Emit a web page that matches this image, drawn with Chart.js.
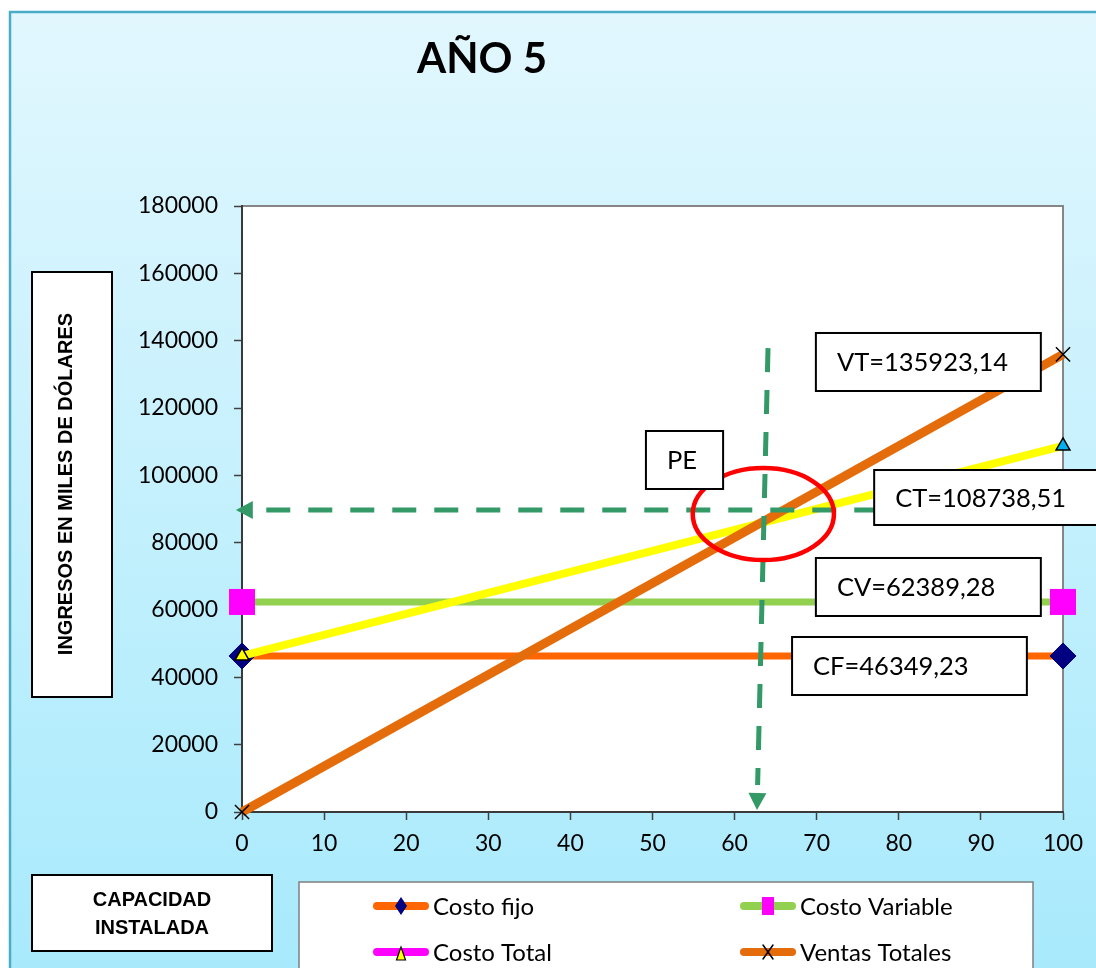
<!DOCTYPE html>
<html lang="es">
<head>
<meta charset="utf-8">
<title>AÑO 5 - Punto de equilibrio</title>
<script src="https://cdn.jsdelivr.net/npm/chart.js@4.4.1/dist/chart.umd.min.js"></script>
<style>
  html, body { margin: 0; padding: 0; background: #ffffff; }
  canvas { display: block; }
</style>
</head>
<body>
<canvas id="grafico" width="1096" height="968"></canvas>
<script>
// capacidad instalada (%) y valores en miles de dólares
const capacidad = [0, 100];
const costoFijo = [46349.23, 46349.23];
const costoVariable = [62389.28, 62389.28];
const costoTotal = [46349.23, 108738.51];
const ventasTotales = [0, 135923.14];

const ticksX = [0, 10, 20, 30, 40, 50, 60, 70, 80, 90, 100];
const ticksY = [0, 20000, 40000, 60000, 80000, 100000, 120000, 140000, 160000, 180000];

// cuadros de texto y marcas del punto de equilibrio, en unidades del gráfico
const etiquetas = [
  { texto: 'VT=135923,14', x0: 69.9, x1: 97.3, y0: 125050, y1: 142280 },
  { texto: 'CT=108738,51', x0: 77.0, x1: 104.5, y0: 85250, y1: 101580 },
  { texto: 'CV=62389,28', x0: 69.9, x1: 97.3, y0: 58220, y1: 75450 },
  { texto: 'CF=46349,23', x0: 67.0, x1: 95.6, y0: 34750, y1: 51980 },
  { texto: 'PE', x0: 49.2, x1: 58.6, y0: 95940, y1: 113170 }
];
const elipsePE = { x: 63.5, y: 88500, rx: 8.6, ry: 13660 };
const flechas = [
  { desde: [77.5, 89700], hasta: [-0.75, 89700] },
  { desde: [64.07, 137800], hasta: [62.73, 600] }
];

const puntos = ys => capacidad.map((x, i) => ({ x: x, y: ys[i] }));

function flecha(ctx, x1, y1, x2, y2) {
  const d = Math.hypot(x2 - x1, y2 - y1);
  const ux = (x2 - x1) / d, uy = (y2 - y1) / d;
  const largo = 17, ancho = 9;
  const bx = x2 - ux * largo, by = y2 - uy * largo;
  ctx.save();
  ctx.strokeStyle = '#339966';
  ctx.fillStyle = '#339966';
  ctx.lineWidth = 5;
  ctx.setLineDash([24, 18]);
  ctx.beginPath();
  ctx.moveTo(x1, y1);
  ctx.lineTo(bx - ux * 8, by - uy * 8);
  ctx.stroke();
  ctx.setLineDash([]);
  ctx.beginPath();
  ctx.moveTo(x2, y2);
  ctx.lineTo(bx - uy * ancho, by + ux * ancho);
  ctx.lineTo(bx + uy * ancho, by - ux * ancho);
  ctx.closePath();
  ctx.fill();
  ctx.restore();
}

function marca(ctx, tipo, x, y) {
  ctx.save();
  ctx.lineWidth = 1.2;
  ctx.strokeStyle = '#000000';
  ctx.beginPath();
  if (tipo === 'diamante') {
    ctx.fillStyle = '#000080';
    ctx.moveTo(x, y - 9); ctx.lineTo(x + 6, y); ctx.lineTo(x, y + 9); ctx.lineTo(x - 6, y);
    ctx.closePath(); ctx.fill();
  } else if (tipo === 'cuadro') {
    ctx.fillStyle = '#FF00FF';
    ctx.fillRect(x - 6, y - 9, 12, 18);
  } else if (tipo === 'triangulo') {
    ctx.fillStyle = '#FFFF00';
    ctx.moveTo(x, y - 5); ctx.lineTo(x + 4.5, y + 8); ctx.lineTo(x - 4.5, y + 8);
    ctx.closePath(); ctx.fill(); ctx.stroke();
  } else {
    ctx.lineWidth = 1.5;
    ctx.moveTo(x - 5, y - 7); ctx.lineTo(x + 5, y + 7);
    ctx.moveTo(x + 5, y - 7); ctx.lineTo(x - 5, y + 7);
    ctx.stroke();
  }
  ctx.restore();
}

const leyenda = [
  { texto: 'Costo fijo', linea: '#FF6600', marca: 'diamante', x: 373, y: 906 },
  { texto: 'Costo Variable', linea: '#92D050', marca: 'cuadro', x: 740, y: 906 },
  { texto: 'Costo Total', linea: '#FF00FF', marca: 'triangulo', x: 373, y: 952 },
  { texto: 'Ventas Totales', linea: '#E46C0A', marca: 'cruz', x: 740, y: 952 }
];

const decorado = {
  id: 'decorado',
  beforeDraw(chart) {
    const ctx = chart.ctx;
    const a = chart.chartArea;
    ctx.save();
    ctx.fillStyle = '#ffffff';
    ctx.fillRect(0, 0, chart.width, chart.height);
    const g = ctx.createLinearGradient(0, 12, 0, chart.height);
    g.addColorStop(0, '#E2F7FE');
    g.addColorStop(1, '#A8EAFC');
    ctx.fillStyle = g;
    ctx.fillRect(10, 12, chart.width - 10, chart.height - 12);
    ctx.strokeStyle = '#4BACC6';
    ctx.lineWidth = 2.5;
    ctx.beginPath();
    ctx.moveTo(10, chart.height);
    ctx.lineTo(10, 12);
    ctx.lineTo(chart.width, 12);
    ctx.stroke();

    ctx.fillStyle = '#ffffff';
    ctx.fillRect(a.left, a.top, a.right - a.left, a.bottom - a.top);
    ctx.strokeStyle = '#868686';
    ctx.lineWidth = 2;
    ctx.strokeRect(a.left, a.top, a.right - a.left, a.bottom - a.top);

    // título
    ctx.fillStyle = '#000000';
    ctx.font = 'bold 42px Lato';
    ctx.textAlign = 'center';
    ctx.textBaseline = 'alphabetic';
    ctx.fillText('AÑO 5', 482, 73);

    // título del eje Y
    ctx.fillStyle = '#ffffff';
    ctx.fillRect(32, 272, 80, 425);
    ctx.strokeStyle = '#000000';
    ctx.lineWidth = 2;
    ctx.strokeRect(32, 272, 80, 425);
    ctx.save();
    ctx.translate(72, 484);
    ctx.rotate(-Math.PI / 2);
    ctx.fillStyle = '#000000';
    ctx.font = 'bold 20px "Liberation Sans"';
    ctx.fillText('INGRESOS EN MILES DE DÓLARES', 0, 0);
    ctx.restore();

    // título del eje X
    ctx.fillStyle = '#ffffff';
    ctx.fillRect(32, 875, 240, 76);
    ctx.strokeRect(32, 875, 240, 76);
    ctx.fillStyle = '#000000';
    ctx.font = 'bold 20px "Liberation Sans"';
    ctx.fillText('CAPACIDAD', 152, 906);
    ctx.fillText('INSTALADA', 152, 934);
    ctx.restore();
  },
  afterDatasetsDraw(chart) {
    const ctx = chart.ctx;
    const sx = chart.scales.x, sy = chart.scales.y;
    flechas.forEach(f => {
      flecha(ctx, sx.getPixelForValue(f.desde[0]), sy.getPixelForValue(f.desde[1]),
        sx.getPixelForValue(f.hasta[0]), sy.getPixelForValue(f.hasta[1]));
    });
    ctx.save();
    ctx.strokeStyle = '#FF0000';
    ctx.lineWidth = 4.5;
    ctx.beginPath();
    const cx = sx.getPixelForValue(elipsePE.x), cy = sy.getPixelForValue(elipsePE.y);
    const rx = sx.getPixelForValue(elipsePE.x + elipsePE.rx) - cx;
    const ry = cy - sy.getPixelForValue(elipsePE.y + elipsePE.ry);
    ctx.ellipse(cx, cy, rx, ry, 0, 0, Math.PI * 2);
    ctx.stroke();

    ctx.font = '25.5px Lato';
    ctx.textAlign = 'left';
    ctx.textBaseline = 'middle';
    etiquetas.forEach(e => {
      const x0 = sx.getPixelForValue(e.x0), x1 = sx.getPixelForValue(e.x1);
      const y0 = sy.getPixelForValue(e.y1), y1 = sy.getPixelForValue(e.y0);
      ctx.fillStyle = '#ffffff';
      ctx.fillRect(x0, y0, x1 - x0, y1 - y0);
      ctx.strokeStyle = '#000000';
      ctx.lineWidth = 2;
      ctx.strokeRect(x0, y0, x1 - x0, y1 - y0);
      ctx.fillStyle = '#000000';
      ctx.fillText(e.texto, x0 + 21, (y0 + y1) / 2 + 1);
    });
    ctx.restore();
  },
  afterDraw(chart) {
    const ctx = chart.ctx;
    ctx.save();
    ctx.fillStyle = '#ffffff';
    ctx.fillRect(299, 882, 734, 100);
    ctx.strokeStyle = '#7f7f7f';
    ctx.lineWidth = 1.5;
    ctx.strokeRect(299, 882, 734, 100);
    ctx.font = '24px Lato';
    ctx.textAlign = 'left';
    ctx.textBaseline = 'middle';
    leyenda.forEach(l => {
      ctx.strokeStyle = l.linea;
      ctx.lineWidth = 8;
      ctx.lineCap = 'round';
      ctx.beginPath();
      ctx.moveTo(l.x + 4, l.y);
      ctx.lineTo(l.x + 52, l.y);
      ctx.stroke();
      marca(ctx, l.marca, l.x + 28, l.y);
      ctx.fillStyle = '#000000';
      ctx.fillText(l.texto, l.x + 60, l.y + 1);
    });
    ctx.restore();
  }
};

Chart.defaults.font.family = 'Lato';
Chart.defaults.color = '#000000';

const grafico = new Chart(document.getElementById('grafico').getContext('2d'), {
  type: 'line',
  data: {
    datasets: [
      {
        label: 'Costo fijo',
        data: puntos(costoFijo),
        borderColor: '#FF6600',
        borderWidth: 7,
        pointStyle: 'rectRot',
        pointRadius: 13,
        pointBackgroundColor: '#000080',
        pointBorderColor: '#000080',
        pointBorderWidth: 1,
        order: 4
      },
      {
        label: 'Costo Variable',
        data: puntos(costoVariable),
        borderColor: '#92D050',
        borderWidth: 7,
        pointStyle: 'rect',
        pointRadius: 18.4,
        pointBackgroundColor: '#FF00FF',
        pointBorderColor: '#FF00FF',
        pointBorderWidth: 0,
        order: 3
      },
      {
        label: 'Costo Total',
        data: puntos(costoTotal),
        borderColor: '#FFFF00',
        borderWidth: 8,
        pointStyle: 'triangle',
        pointRadius: 8,
        pointBackgroundColor: ['#FFFF00', '#00B0F0'],
        pointBorderColor: '#000000',
        pointBorderWidth: 1.5,
        order: 2
      },
      {
        label: 'Ventas Totales',
        data: puntos(ventasTotales),
        borderColor: '#E46C0A',
        borderWidth: 9,
        pointStyle: 'crossRot',
        pointRadius: 10,
        pointBorderColor: '#000000',
        pointBorderWidth: 1.5,
        order: 1
      }
    ]
  },
  options: {
    responsive: false,
    animation: false,
    clip: false,
    layout: { padding: { top: 206, right: 33, bottom: 0, left: 0 } },
    plugins: {
      legend: { display: false },
      tooltip: { enabled: false },
      title: { display: false }
    },
    elements: { line: { tension: 0 } },
    scales: {
      x: {
        type: 'linear',
        min: 0,
        max: 100,
        afterBuildTicks: s => { s.ticks = ticksX.map(v => ({ value: v })); },
        afterFit: s => { s.height = 156; },
        ticks: { font: { size: 23 }, padding: 10, maxRotation: 0, callback: v => String(v) },
        grid: { drawOnChartArea: false, tickLength: 8, tickColor: '#404040', tickWidth: 1.5 },
        border: { color: '#3a3a3a', width: 2 }
      },
      y: {
        min: 0,
        max: 180000,
        afterBuildTicks: s => { s.ticks = ticksY.map(v => ({ value: v })); },
        afterFit: s => { s.width = 242; },
        ticks: { font: { size: 23 }, padding: 16, callback: v => String(v) },
        grid: { drawOnChartArea: false, tickLength: 8, tickColor: '#404040', tickWidth: 1.5 },
        border: { color: '#3a3a3a', width: 2 }
      }
    }
  },
  plugins: [decorado]
});
</script>
</body>
</html>
